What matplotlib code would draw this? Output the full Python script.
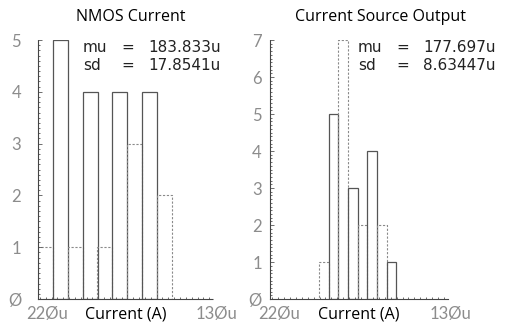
#!/usr/bin/env python3
import numpy as np
import matplotlib
matplotlib.use('Agg')
import matplotlib.pyplot as plt
import matplotlib.transforms as mtransforms
from matplotlib.ticker import AutoMinorLocator, MultipleLocator

# histogram data, current in microamps (axis runs 220u -> 130u)
nmos_centers = [216.2, 208.5, 200.9, 193.2, 185.6, 177.9, 170.3, 162.6, 155.0]
nmos_counts = [1, 5, 1, 4, 1, 4, 3, 4, 2]
nmos_width = 7.65

src_centers = [192.8, 187.9, 183.0, 178.1, 173.2, 168.3, 163.4, 158.5]
src_counts = [1, 5, 7, 3, 2, 4, 2, 1]
src_width = 4.9

titles = ['NMOS Current', 'Current Source Output']
title_x = [0.53, 0.62]
stat_names = ['mu', 'sd']
nmos_stats = ['183.833u', '17.8541u']
src_stats = ['177.697u', '8.63447u']
stat_x = [0.257, 0.494]
xtick_vals = [220, 130]
xtick_labels = ['22\u00d8u', '13\u00d8u']
xtick_shift = [9, 3]   # pixels

TICK = '#8c8c8c'
EDGE_SOLID = '#555555'
EDGE_DASH = '#8a8a8a'


def hist(fig, ax, centers, counts, width, ymax, title, tx, values, sx, ypad):
    for i, (c, n) in enumerate(zip(centers, counts)):
        if i % 2 == 0:
            ax.bar(c, n, width=width, fill=False, edgecolor=EDGE_DASH,
                   linestyle=(0, (2, 1.5)), linewidth=0.8)
        else:
            ax.bar(c, n, width=width, fill=False, edgecolor=EDGE_SOLID,
                   linewidth=0.9)
    ax.set_xlim(220, 130)
    ax.set_ylim(0, ymax)
    ax.spines['top'].set_visible(False)
    ax.spines['right'].set_visible(False)
    for s in ('left', 'bottom'):
        ax.spines[s].set_color('#444444')
        ax.spines[s].set_linewidth(0.8)
        ax.spines[s].set_linestyle((0, (1, 1)))
    ax.set_xticks(xtick_vals)
    ax.set_xticklabels(xtick_labels)
    yt = list(range(0, ymax + 1))
    ax.set_yticks(yt)
    ax.set_yticklabels(['\u00d8'] + [str(v) for v in yt[1:]])
    ax.xaxis.set_minor_locator(MultipleLocator(3))
    ax.yaxis.set_minor_locator(AutoMinorLocator(10))
    ax.tick_params(which='both', direction='in', color='#555555', width=0.6,
                   labelcolor=TICK, labelsize=12)
    ax.tick_params(which='major', length=3)
    ax.tick_params(which='minor', length=1.5)
    ax.tick_params(axis='y', pad=ypad)
    ax.tick_params(axis='x', which='major', length=0, pad=5)
    for lab in ax.get_xticklabels() + ax.get_yticklabels():
        lab.set_family('Lato')
    # nudge the x tick labels to the right, like the original
    for lab, dx in zip(ax.get_xticklabels(), xtick_shift):
        off = mtransforms.ScaledTranslation(dx / 100, 0, fig.dpi_scale_trans)
        lab.set_transform(lab.get_transform() + off)
    ax.set_title(title, fontsize=11.5, family='Open Sans', pad=14, x=tx)
    ax.set_xlabel('Current (A)', fontsize=11.5, family='Open Sans',
                  labelpad=-11.5)
    # mu / sd readout, three columns per row
    for row, (name, val) in enumerate(zip(stat_names, values)):
        for dx, s in zip((0, 38, 65), (name, '=', val)):
            ax.annotate(s, xy=(sx, 1.0), xycoords='axes fraction',
                        xytext=(dx, -18 * row), textcoords='offset pixels',
                        va='top', ha='left', fontsize=11,
                        family='DejaVu Sans', color='#222222')


fig = plt.figure(figsize=(5.05, 3.28), dpi=100)
ax1 = fig.add_axes([0.075, 0.088, 0.347, 0.79])
ax2 = fig.add_axes([0.535, 0.088, 0.352, 0.79])
hist(fig, ax1, nmos_centers, nmos_counts, nmos_width, 5, titles[0], title_x[0],
     nmos_stats, stat_x[0], 12)
hist(fig, ax2, src_centers, src_counts, src_width, 7, titles[1], title_x[1],
     src_stats, stat_x[1], 6)

fig.savefig('out.png', dpi=100)
